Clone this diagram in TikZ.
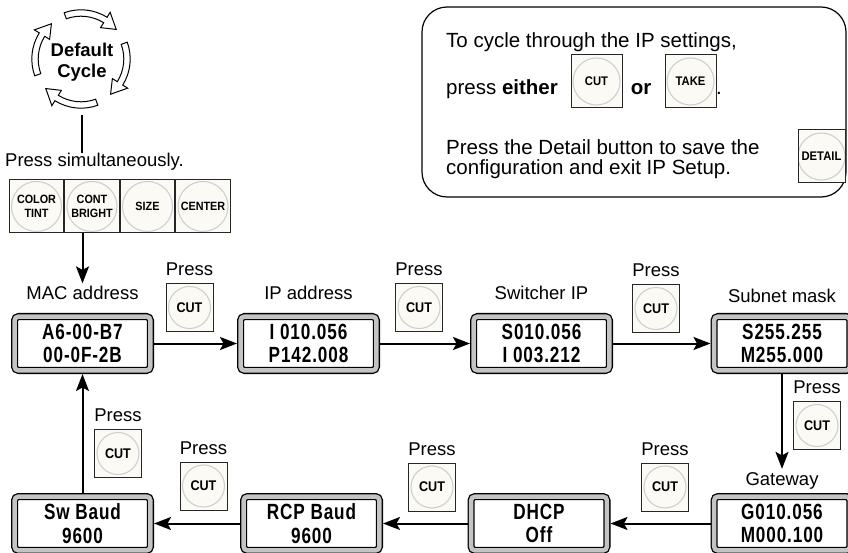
\documentclass[tikz,border=0pt]{standalone}
\usepackage{fontspec}
\setmainfont{Liberation Sans}
\newfontfamily\lcdfont{Liberation Sans}[FakeStretch=0.78,LetterSpace=4]
\newfontfamily\keyfont{Liberation Sans}[FakeStretch=0.9]
\usetikzlibrary{positioning,arrows.meta}
\definecolor{keybg}{HTML}{FBFAF4}
\definecolor{keyring}{HTML}{CFCFCF}
\definecolor{bezel}{HTML}{C4C4C4}
\tikzset{
  lcd/.style={draw, line width=1.3pt, double=bezel, double distance=4.5pt,
    rounded corners=4pt, fill=white, minimum width=135.9pt, minimum height=53.9pt,
    outer sep=3.55pt, inner sep=0pt, align=center,
    font=\lcdfont\bfseries\fontsize{22}{23.5}\selectfont},
  key/.style={draw=black!85, line width=1pt, fill=keybg, minimum width=47pt,
    minimum height=48pt, inner sep=0pt, align=center,
    font=\keyfont\bfseries\fontsize{14}{15}\selectfont,
    path picture={\draw[keyring, line width=1.1pt] (path picture bounding box.center) circle (21pt);}},
  boxkey/.style={key, minimum width=51pt, minimum height=53pt,
    font=\keyfont\bfseries\fontsize{12.5}{13}\selectfont,
    path picture={\draw[keyring, line width=1.1pt] (path picture bounding box.center) circle (23.5pt);}},
  panelkey/.style={key, minimum width=54.5pt, minimum height=53pt,
    font=\keyfont\bfseries\fontsize{12}{13.5}\selectfont,
    path picture={\draw[keyring, line width=1.1pt] (path picture bounding box.center) circle (25pt);}},
  lbl/.style={font=\fontsize{18.5}{21}\selectfont, inner sep=0pt},
  boxtxt/.style={font=\fontsize{20.5}{23}\selectfont, inner sep=0pt},
  arr/.style={line width=2pt, -{Stealth[length=17pt,width=13pt,inset=3.5pt]}},
}
\begin{document}
\begin{tikzpicture}[x=1pt,y=1pt]
  \useasboundingbox (0,0) rectangle (848,552);

  % default cycle
  \node[font=\bfseries\fontsize{18.5}{21}\selectfont, align=center, inner sep=0pt] (cyctxt) at (82,489.5) {Default\\Cycle};
  \begin{scope}[shift={(81,493)}]
    \foreach \a in {110,20,-70,-160}
      \draw[line width=1pt, fill=white] (\a:49.2) arc[start angle=\a, end angle=\a-52, radius=49.2]
        -- (\a-52:55) -- (\a-70:46) -- (\a-52:37) -- (\a-52:42.8)
        arc[start angle=\a-52, end angle=\a, radius=42.8] -- cycle;
  \end{scope}
  \coordinate (cycbot) at (82,437);

  % front panel buttons
  \node[lbl, anchor=base west] (simlbl) at (5,385) {Press simultaneously.};
  \node[panelkey] (colortint) at (36.5,345.5) {COLOR\\TINT};
  \node[panelkey, right=0pt of colortint] (contbright) {CONT\\BRIGHT};
  \node[panelkey, right=0pt of contbright] (size) {SIZE};
  \node[panelkey, right=0pt of size] (center) {CENTER};
  \draw[line width=2pt] (cycbot) -- (cycbot |- simlbl.north);

  % info box
  \node[draw, line width=1.2pt, rounded corners=25pt, minimum width=424pt, minimum height=190pt] (infobox) at (634,450) {};
  \node[boxtxt, anchor=base west] (cycinfo) at (446,504) {To cycle through the IP settings,};
  \node[boxtxt, anchor=base west] (either) at (446,457) {press \textbf{either}};
  \node[boxkey] (cutkey) at (596.5,470.5) {CUT};
  \node[boxtxt, anchor=base] (ortxt) at (641,457) {\textbf{or}};
  \node[boxkey] (takekey) at (690.5,470.5) {TAKE};
  \node[boxtxt, anchor=base west] (dot) at (716,457) {.};
  \node[boxtxt, anchor=base west] (detail1) at (446,397) {Press the Detail button to save the};
  \node[boxtxt, anchor=base west] (detail2) at (446,377) {configuration and exit IP Setup.};
  \node[boxkey, minimum width=47pt] (detailkey) at (821.5,395.5) {DETAIL};

  % lcd screens
  \node[lcd] (mac) at (82.5,208.5) {A6-00-B7\\00-0F-2B};
  \node[lcd] (ip) at (308.5,208.5) {I 010.056\\P142.008};
  \node[lcd] (swip) at (541.5,208.5) {S010.056\\I 003.212};
  \node[lcd] (subnet) at (782,208.5) {S255.255\\M255.000};
  \node[lcd] (gw) at (782,28.5) {G010.056\\M000.100};
  \node[lcd] (dhcp) at (539,28.5) {DHCP\\Off};
  \node[lcd] (rcp) at (311.5,28.5) {RCP Baud\\9600};
  \node[lcd] (swbaud) at (82.5,28.5) {Sw Baud\\9600};

  \node[lbl, above=13pt of mac.north, anchor=base] (maclbl) {MAC address};
  \node[lbl, above=13pt of ip.north, anchor=base] (iplbl) {IP address};
  \node[lbl, above=13pt of swip.north, anchor=base] (swiplbl) {Switcher IP};
  \node[lbl, above=10pt of subnet.north, anchor=base] (subnetlbl) {Subnet mask};
  \node[lbl, above=8pt of gw.north, anchor=base] (gwlbl) {Gateway};

  % cut keys
  \node[key] (k1) at (189.5,244.5) {CUT};
  \node[key] (k2) at (419,244.5) {CUT};
  \node[key] (k3) at (656,243.5) {CUT};
  \node[key] (k4) at (817,126.5) {CUT};
  \node[key] (k5) at (665,65) {CUT};
  \node[key] (k6) at (432,65) {CUT};
  \node[key] (k7) at (203.5,66) {CUT};
  \node[key] (k8) at (118,98.5) {CUT};
  \foreach \k in {1,...,8}
    \node[lbl, above=7pt of k\k] (p\k) {Press};

  % connectors
  \draw[arr, shorten >=3pt] (mac.north |- contbright.south) -- (maclbl.north);
  \draw[arr] (mac) -- (ip);
  \draw[arr] (ip) -- (swip);
  \draw[arr] (swip) -- (subnet);
  \draw[arr, shorten >=3pt] (subnet) -- (subnet.south |- gwlbl.north);
  \draw[arr] (gw) -- (dhcp);
  \draw[arr] (dhcp) -- (rcp);
  \draw[arr] (rcp) -- (swbaud);
  \draw[arr] (swbaud) -- (mac);
\end{tikzpicture}
\end{document}
